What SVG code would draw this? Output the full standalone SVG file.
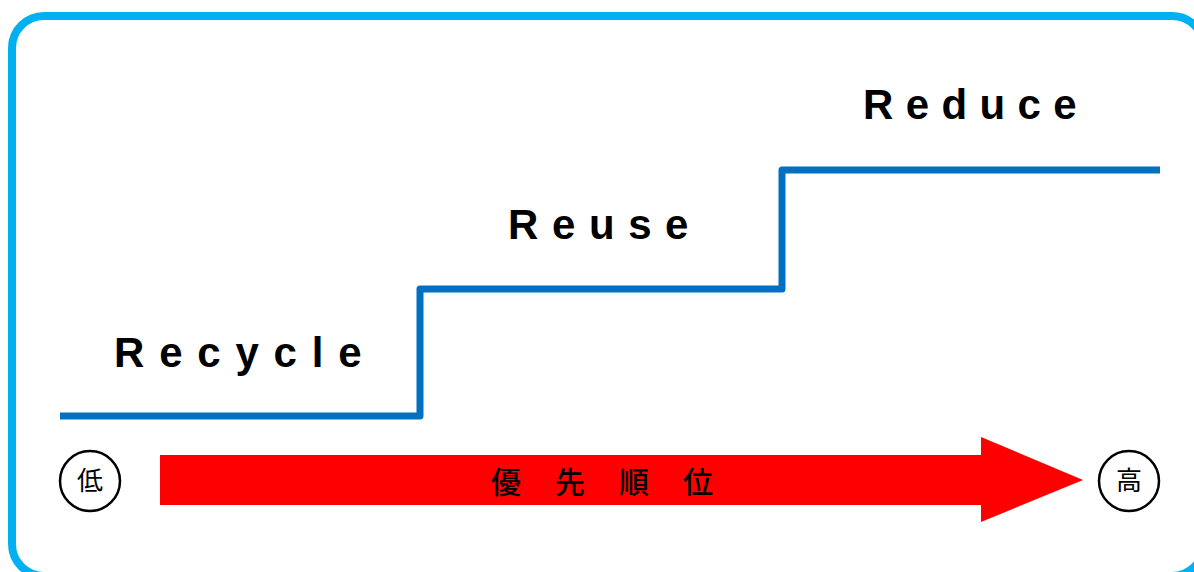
<svg xmlns="http://www.w3.org/2000/svg" width="1194" height="572" viewBox="0 0 1194 572">
<style>
.lbl{font-family:"Liberation Sans",Arial,sans-serif;font-weight:bold;font-size:42px;fill:#000;}
.jp{font-family:"Noto Sans CJK JP","Noto Sans CJK SC",sans-serif;fill:#000;text-anchor:middle;}
.circ{fill:#fff;stroke:#000;stroke-width:2.5;}
</style>
<rect width="1194" height="572" fill="#fff"/>
<g id="frame">
<rect x="12" y="16" width="1192" height="560" rx="32" ry="32" fill="none" stroke="#00B0F0" stroke-width="8"/>
</g>
<g id="connectors">
<polyline points="60,416 420,416 420,289 782,289 782,170 1160,170" fill="none" stroke="#0070C0" stroke-width="7" stroke-linejoin="round"/>
</g>
<g id="recycle"><text class="lbl" x="114" y="367" letter-spacing="14.8">Recycle</text></g>
<g id="reuse"><text class="lbl" x="508" y="239" letter-spacing="13.6">Reuse</text></g>
<g id="reduce"><text class="lbl" x="863" y="119" letter-spacing="12.4">Reduce</text></g>
<g id="priority-arrow">
<polygon points="160,455 981,455 981,437 1083,480 981,522 981,505 160,505" fill="#FF0000"/>
<text class="jp" x="506" y="493" font-size="30" font-weight="500">優</text>
<text class="jp" x="570" y="493" font-size="30" font-weight="500">先</text>
<text class="jp" x="634" y="493" font-size="30" font-weight="500">順</text>
<text class="jp" x="698" y="493" font-size="30" font-weight="500">位</text>
</g>
<g id="low">
<circle class="circ" cx="90" cy="481" r="30"/>
<text class="jp" x="90" y="490" font-size="26">低</text>
</g>
<g id="high">
<circle class="circ" cx="1129" cy="481" r="30"/>
<text class="jp" x="1129" y="490" font-size="26">高</text>
</g>
</svg>
